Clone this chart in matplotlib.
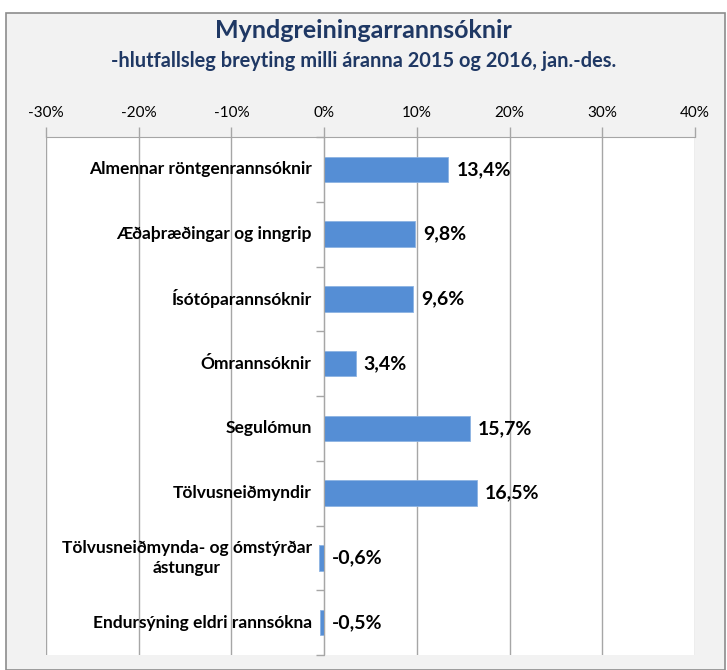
import matplotlib

matplotlib.use("Agg")
import matplotlib.pyplot as plt
from matplotlib.patches import Rectangle
from matplotlib.ticker import FuncFormatter
from matplotlib.offsetbox import TextArea, VPacker, AnnotationBbox
from matplotlib.transforms import offset_copy

FONT = ["Lato", "DejaVu Sans"]
C_BG = "#F2F2F2"
C_BAR = "#558ED5"
C_GRID = "#A6A6A6"
C_TITLE = "#1F3864"

# ── Data ──────────────────────────────────────────────────────────────────────
categories = [
    "Almennar röntgenrannsóknir",
    "Æðaþræðingar og inngrip",
    "Ísótóparannsóknir",
    "Ómrannsóknir",
    "Segulómun",
    "Tölvusneiðmyndir",
    "Tölvusneiðmynda- og ómstýrðar\nástungur",
    "Endursýning eldri rannsókna",
]
change_pct = [13.4, 9.8, 9.6, 3.4, 15.7, 16.5, -0.6, -0.5]
x_ticks = [-30, -20, -10, 0, 10, 20, 30, 40]

# ── Figure ────────────────────────────────────────────────────────────────────
fig = plt.figure(figsize=(7.27, 6.70), dpi=100, facecolor="white")
fig.patches.append(
    Rectangle((6 / 727, 0), 719 / 727, 657 / 670, transform=fig.transFigure,
              facecolor=C_BG, edgecolor="#8C8C8C", lw=1.2, zorder=-10)
)

ax = fig.add_axes([46 / 727, 1 - 655 / 670, 649 / 727, 518 / 670], facecolor="white")
ypos = list(range(len(categories)))
ax.barh(ypos, change_pct, height=0.39, color=C_BAR, edgecolor="#8DB3E2", lw=0.6, zorder=3)

ax.set_xlim(-30, 40)
ax.set_ylim(len(categories) - 0.5, -0.5)
ax.set_xticks(x_ticks)
ax.xaxis.set_major_formatter(FuncFormatter(lambda v, _: f"{v:.0f}%"))
ax.xaxis.tick_top()
ax.tick_params(axis="x", direction="out", length=7, width=1, color=C_GRID, pad=5,
               labelsize=11, labelcolor="black")
for lbl in ax.get_xticklabels():
    lbl.set_fontfamily(FONT)
ax.grid(axis="x", color=C_GRID, lw=1, zorder=1)

for side in ["bottom", "right"]:
    ax.spines[side].set_visible(False)
ax.spines["top"].set_color(C_GRID)
ax.spines["left"].set_position(("data", 0))
ax.spines["left"].set_color(C_GRID)
ax.spines["left"].set_zorder(4)
ax.set_yticks([i + 0.5 for i in ypos[:-1]] + [len(categories) - 0.5, -0.5])
ax.tick_params(axis="y", direction="out", length=6, width=1, color=C_GRID, labelleft=False)

# category labels sit just left of the zero axis, wrapped lines centred
label_props = dict(fontsize=12.5, fontweight="bold", family=FONT, color="black")
for y, name in zip(ypos, categories):
    rows = [TextArea(line, textprops=label_props) for line in name.split("\n")]
    stack = VPacker(children=rows, align="center", pad=0, sep=3)
    ab = AnnotationBbox(stack, (0, y), xybox=(-9, 0), xycoords="data",
                        boxcoords="offset points", box_alignment=(1, 0.5),
                        frameon=False, pad=0, zorder=5)
    ax.add_artist(ab)

# value labels
right_of_bar = offset_copy(ax.transData, fig=fig, x=8, y=0, units="dots")
for y, v in zip(ypos, change_pct):
    ax.text(max(v, 0), y, f"{v:.1f}%".replace(".", ","), transform=right_of_bar,
            ha="left", va="center", fontsize=14, fontweight="bold", family=FONT,
            zorder=5)

# ── Titles ────────────────────────────────────────────────────────────────────
fig.text(0.5, 1 - 31 / 670, "Myndgreiningarrannsóknir", ha="center", va="center",
         fontsize=18, fontweight="bold", color=C_TITLE, family=FONT)
fig.text(0.5, 1 - 61 / 670, "-hlutfallsleg breyting milli áranna 2015 og 2016, jan.-des.",
         ha="center", va="center", fontsize=14.4, fontweight="bold", color=C_TITLE,
         family=FONT)

fig.savefig("out.png", dpi=100, facecolor="white")
